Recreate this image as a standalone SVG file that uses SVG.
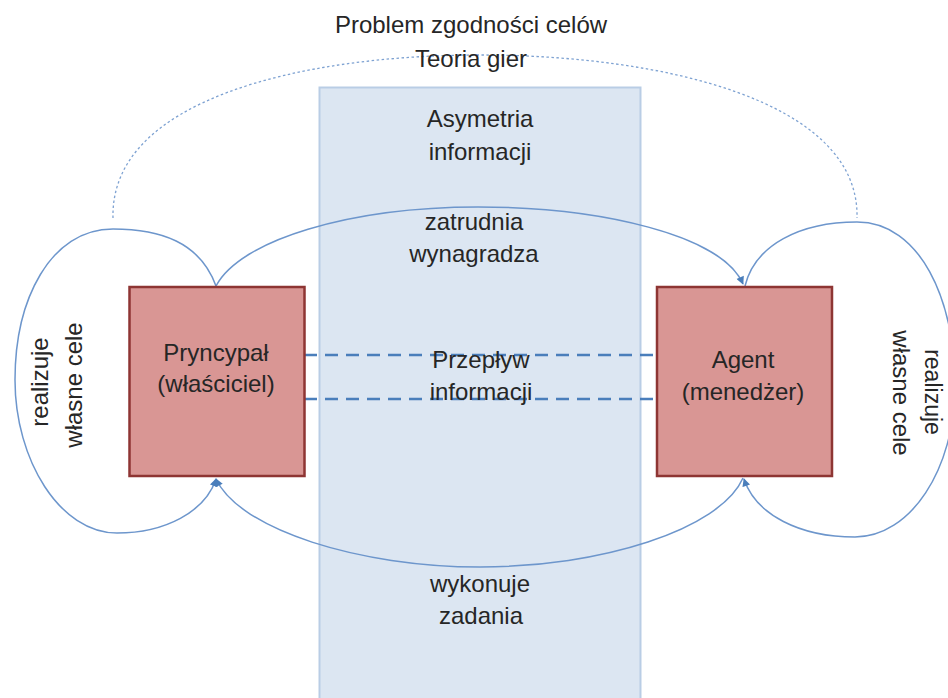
<svg xmlns="http://www.w3.org/2000/svg" width="948" height="698" viewBox="0 0 948 698">
<defs>
<style>
.t{font-family:"Liberation Sans",Arial,sans-serif;font-size:24px;fill:#262626;text-anchor:middle}
.box{fill:#d99694;stroke:#8e3533;stroke-width:2.5}
.curve{fill:none;stroke:#6d96cc;stroke-width:1.5}
.dash{fill:none;stroke:#4a7ebb;stroke-width:2.7;stroke-dasharray:13 8}
.dot{fill:none;stroke:#7ea2d2;stroke-width:1.3;stroke-dasharray:2.5 2.5}
</style>
<marker id="arr" viewBox="0 0 10 10" refX="9" refY="5" markerWidth="9" markerHeight="8" markerUnits="userSpaceOnUse" orient="auto">
<path d="M0,0 L10,5 L0,10 z" fill="#4a7ebb"/>
</marker>
</defs>
<rect width="948" height="698" fill="#ffffff"/>
<g id="band">
<rect x="319.5" y="87.5" width="321" height="620" fill="#dce6f2" stroke="#b9cde5" stroke-width="2"/>
</g>
<g id="connectors">
<path class="dot" d="M113,218 C110,100 300,55 480,55 C660,55 860,100 857,218"/>
<path class="curve" d="M216,286 C240,240 350,207 478,207 C600,207 722,235 743,284" marker-end="url(#arr)"/>
<path class="curve" d="M216,286 C200,242 160,229 113,229 C50,229 15,300 15,380 C15,460 60,533 117,533 C165,533 205,512 216,479" marker-end="url(#arr)"/>
<path class="curve" d="M745,286 C755,245 800,222 857,222 C920,222 955,300 955,385 C955,470 910,537 855,537 C800,537 756,515 744,479" marker-end="url(#arr)"/>
<path class="curve" d="M743,478 C720,530 600,567 480,567 C360,567 240,530 216,479" marker-end="url(#arr)"/>
<line class="dash" x1="304" y1="355" x2="656" y2="355"/>
<line class="dash" x1="304" y1="399" x2="656" y2="399"/>
</g>
<g id="principal">
<rect class="box" x="129.5" y="287" width="175" height="189"/>
<text class="t" x="216" y="361">Pryncypał</text>
<text class="t" x="216" y="392">(właściciel)</text>
</g>
<g id="agent">
<rect class="box" x="657" y="287" width="175" height="189"/>
<text class="t" x="743" y="368">Agent</text>
<text class="t" x="743" y="400">(menedżer)</text>
</g>
<g id="labels">
<text class="t" x="471" y="33">Problem zgodności celów</text>
<text class="t" x="471" y="67">Teoria gier</text>
<text class="t" x="480" y="127">Asymetria</text>
<text class="t" x="480" y="160">informacji</text>
<text class="t" x="474" y="230">zatrudnia</text>
<text class="t" x="474" y="262">wynagradza</text>
<text class="t" x="481" y="368">Przepływ</text>
<text class="t" x="481" y="400">informacji</text>
<text class="t" x="480" y="592">wykonuje</text>
<text class="t" x="481" y="624">zadania</text>
<text class="t" transform="translate(48,382) rotate(-90)">realizuje</text>
<text class="t" transform="translate(82,385) rotate(-90)">własne cele</text>
<text class="t" style="font-size:23px" transform="translate(925,392) rotate(90)">realizuje</text>
<text class="t" transform="translate(893,393) rotate(90)">własne cele</text>
</g>
</svg>
